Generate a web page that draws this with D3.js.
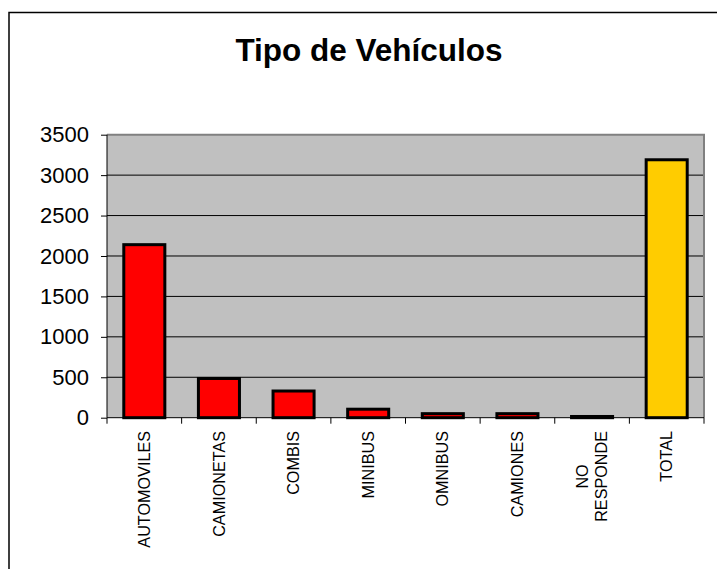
<!DOCTYPE html>
<html>
<head>
<meta charset="utf-8">
<script src="https://cdn.jsdelivr.net/npm/d3@7"></script>
<style>
  html, body { margin: 0; padding: 0; background: #fff; }
  svg { display: block; }
  text { font-family: Arial, "Liberation Sans", sans-serif; fill: #000; }
</style>
</head>
<body>
<svg id="chart" width="717" height="569"></svg>
<script>
const title = "Tipo de Vehículos";
const categories = ["AUTOMOVILES", "CAMIONETAS", "COMBIS", "MINIBUS", "OMNIBUS", "CAMIONES", "NO\nRESPONDE", "TOTAL"];
const values = [2140, 485, 330, 105, 50, 50, 15, 3190];
const barColors = ["#FF0000", "#FF0000", "#FF0000", "#FF0000", "#FF0000", "#FF0000", "#FF0000", "#FFCC00"];
const yTicks = [0, 500, 1000, 1500, 2000, 2500, 3000, 3500];

const svg = d3.select("#chart");
const W = 717, H = 569;
const plot = { left: 107, right: 704, top: 134.7, bottom: 417.7 };

svg.append("rect").attr("x", 0).attr("y", 0).attr("width", W).attr("height", H).attr("fill", "#fff");

// outer chart border (extends beyond right/bottom edge)
svg.append("rect")
  .attr("x", 9).attr("y", 12.5).attr("width", 740).attr("height", 600)
  .attr("fill", "none").attr("stroke", "#000").attr("stroke-width", 1.5);

// title
svg.append("text")
  .attr("x", 369).attr("y", 61)
  .attr("text-anchor", "middle")
  .attr("font-size", 31.5).attr("font-weight", "bold")
  .text(title);

const x = d3.scaleBand()
  .domain(categories)
  .range([plot.left, plot.right])
  .paddingInner(0.45).paddingOuter(0.225);

const y = d3.scaleLinear().domain([0, 3500]).range([plot.bottom, plot.top]);

// plot background
svg.append("rect")
  .attr("x", plot.left).attr("y", plot.top)
  .attr("width", plot.right - plot.left).attr("height", plot.bottom - plot.top)
  .attr("fill", "#C0C0C0");

// gridlines
svg.append("g").selectAll("line")
  .data(yTicks.filter(d => d > 0 && d < 3500))
  .join("line")
  .attr("x1", plot.left).attr("x2", plot.right)
  .attr("y1", d => y(d)).attr("y2", d => y(d))
  .attr("stroke", "#000").attr("stroke-width", 1);

// plot border top/right (gray)
svg.append("path")
  .attr("d", `M${plot.left},${plot.top}H${plot.right}V${plot.bottom}`)
  .attr("fill", "none").attr("stroke", "#808080").attr("stroke-width", 2);

// bars
svg.append("g").selectAll("rect")
  .data(categories.map((c, i) => ({ c, v: values[i], col: barColors[i] })))
  .join("rect")
  .attr("x", d => x(d.c))
  .attr("width", x.bandwidth())
  .attr("y", d => y(d.v))
  .attr("height", d => y(0) - y(d.v))
  .attr("fill", d => d.col)
  .attr("stroke", "#000").attr("stroke-width", 3);

// y axis
const yAxis = svg.append("g")
  .attr("transform", `translate(${plot.left},0)`)
  .call(d3.axisLeft(y).tickValues(yTicks).tickSize(6).tickPadding(12).tickFormat(d3.format("d")));
yAxis.select(".domain").attr("stroke", "#000").attr("d", `M0,${plot.top}V${plot.bottom}`);
yAxis.selectAll(".tick line").attr("stroke", "#000");
yAxis.selectAll("text").attr("font-size", 22).attr("font-family", 'Arial, "Liberation Sans", sans-serif').attr("fill", "#000");

// x axis line
svg.append("line")
  .attr("x1", plot.left).attr("x2", plot.right)
  .attr("y1", plot.bottom).attr("y2", plot.bottom)
  .attr("stroke", "#000").attr("stroke-width", 1);

// x ticks at band boundaries
const step = x.step();
const boundaries = categories.map(c => x(c) - (step - x.bandwidth()) / 2).concat([plot.right]);
svg.append("g").selectAll("line")
  .data(boundaries)
  .join("line")
  .attr("x1", d => d).attr("x2", d => d)
  .attr("y1", plot.bottom).attr("y2", plot.bottom + 6)
  .attr("stroke", "#000").attr("stroke-width", 1);

// x labels rotated -90, top aligned at y=431, multi-line centered
const labelTop = 431;
const lineH = 19.5;
categories.forEach(c => {
  const lines = c.split("\n");
  const cx = x(c) + x.bandwidth() / 2;
  const g = svg.append("g");
  const t = g.append("text")
    .attr("font-size", 16.2)
    .attr("text-anchor", "middle");
  lines.forEach((ln, i) => {
    t.append("tspan")
      .attr("x", 0)
      .attr("y", (i - (lines.length - 1) / 2) * lineH)
      .attr("dy", "0.35em")
      .text(ln);
  });
  let maxLen = 0;
  t.selectAll("tspan").each(function() { maxLen = Math.max(maxLen, this.getComputedTextLength()); });
  g.attr("transform", `translate(${cx},${labelTop + maxLen / 2}) rotate(-90)`);
});
</script>
</body>
</html>
